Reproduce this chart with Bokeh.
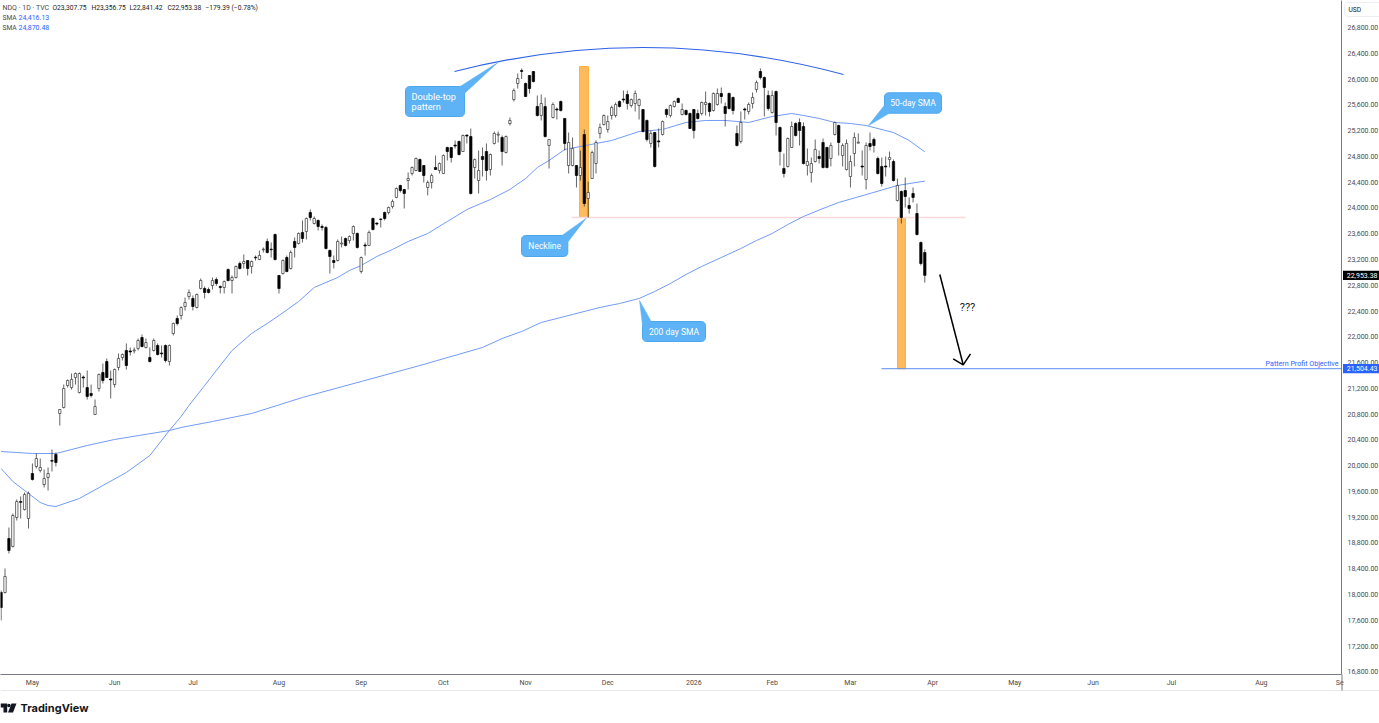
import math
from bokeh.plotting import figure
from bokeh.embed import file_html
from bokeh.resources import INLINE
from bokeh.core.properties import value
from bokeh.models import FixedTicker, NumeralTickFormatter, Range1d

# ---------- data ----------
opens = [18031,18031,18869,18746,19195,19443,19319,19180,19878,19987,19925,19707,19816,20080,20173,20809,20902,21243,21212,21368,
 21135,21375,21212,21120,20794,21197,21446,21616,21345,21259,21523,21678,21787,21780,21780,21818,21989,21834,21678,21787,
 21865,21748,21865,21616,22051,22284,22330,22470,22625,22594,22454,22749,22749,22734,22796,22889,22780,22765,23044,22873,
 22920,23137,23137,23184,23091,23235,23199,23350,23479,23360,23587,22951,22982,23230,23060,23479,23448,23619,23634,23929,
 23758,23805,23711,23696,23339,23184,23184,23440,23525,23494,23603,23603,23013,23425,23417,23836,23765,23828,23929,23929,
 24022,24162,24348,24286,24425,24534,24581,24751,24658,24317,24394,24627,24581,24534,24938,24938,24975,25031,24875,25130,
 25108,24627,24425,24798,24875,24596,25000,25130,25093,24860,25310,25682,25931,26133,25931,26055,26117,25574,25434,25574,
 24969,25403,25535,25651,25388,24658,24658,24658,24503,25139,24146,24456,24689,25155,25294,25217,25434,25434,25651,25690,
 25760,25589,25620,25589,25527,25357,25000,25170,25040,25139,25527,25434,25574,25698,25450,25512,25465,25527,25465,25465,
 25605,25620,25512,25605,25776,25574,25776,25714,25155,25031,25535,25496,25620,25838,26117,26024,25745,25481,25806,25248,
 24612,24643,24938,25310,25326,25263,24658,24550,24720,24798,25015,24938,24767,25139,25279,24813,24596,24487,24844,25005,
 24650,24441,25000,25062,24767,24643,24650,24751,24720,24115,24255,24270,24037,24224,23913,23463,23307.75]
highs = [18062,18404,19040,19257,19475,19521,19583,19598,20033,20188,20111,19940,19971,20250,20204,20880,21259,21337,21430,21446,
 21446,21399,21477,21259,21027,21430,21585,21663,21477,21508,21741,21741,21896,21834,21834,21973,22035,21973,21834,21973,
 21896,21865,21880,21880,22221,22330,22470,22610,22734,22641,22672,22904,22780,22765,22920,22920,22796,22873,23060,22951,
 23106,23168,23277,23190,23184,23261,23339,23386,23525,23463,23603,22960,23199,23261,23339,23541,23619,23805,23851,23975,
 23867,23820,23743,23720,23355,23261,23510,23556,23541,23572,23727,23619,23246,23463,23649,23851,23774,23836,23944,24022,
 24130,24317,24360,24295,24550,24643,24782,24767,24665,24425,24534,24813,24705,24829,24950,24945,25046,25046,25139,25139,
 25232,24767,24891,24938,25000,24844,25186,25186,25124,25124,25403,25853,26086,26164,25946,26060,26125,25745,25760,25714,
 25062,25636,25558,25667,25395,25170,25093,24665,24891,25217,24410,24891,25046,25310,25450,25434,25589,25636,25667,25822,
 25822,25698,25822,25698,25535,25372,25201,25180,25232,25357,25543,25605,25667,25714,25620,25527,25481,25535,25527,25651,
 25806,25636,25791,25853,25869,25636,25791,25729,25279,25496,25558,25636,25791,25977,26164,26040,25822,25822,25822,25263,
 24844,25093,25341,25330,25388,25326,24922,24782,25062,24891,25077,24950,25015,25341,25294,25000,25062,24813,25170,25155,
 24891,25015,25170,25093,24798,24782,24798,24875,24751,24456,24270,24472,24162,24317,24068,23478,23356.75]
lows = [17597,18015,18637,18730,19149,19180,19304,19024,19769,19956,19894,19661,19614,19909,19987,20623,20887,21212,21181,21259,
 21120,21212,21027,21058,20785,21150,21275,21360,21042,21212,21477,21632,21492,21710,21741,21787,21834,21818,21601,21771,
 21710,21678,21601,21554,22020,22175,22268,22408,22578,22408,22439,22734,22594,22672,22734,22790,22672,22672,22858,22672,
 22905,23044,23060,22951,22982,23184,23190,23308,23292,23230,23184,22672,22966,23000,23044,23230,23432,23463,23510,23805,
 23743,23649,23649,23355,22982,23060,23168,23386,23401,23448,23494,23370,22982,23261,23410,23649,23727,23696,23805,23898,
 23991,24150,24239,23991,24286,24503,24570,24565,24394,24193,24301,24590,24534,24525,24736,24705,24922,24813,24870,25000,
 24208,24456,24224,24487,24425,24503,24984,25015,24658,24844,25279,25651,25853,26000,25720,25776,25946,25419,25357,25093,
 24612,25388,25372,25496,24891,24534,24643,24317,24425,24022,23851,24450,24534,25077,25279,25170,25372,25403,25558,25636,
 25527,25558,25496,25372,25170,25031,24938,24627,24938,25124,25403,25403,25558,25630,25434,25434,25225,25077,25372,25434,
 25434,25419,25496,25589,25620,25263,25527,25450,24953,25000,25372,25450,25543,25791,25993,25419,25512,25465,25124,24658,
 24472,24627,24930,25108,24969,24673,24503,24394,24705,24689,24612,24612,24643,25124,24813,24643,24581,24317,24643,25000,
 24503,24286,24891,24860,24518,24332,24487,24627,24410,24099,23758,24006,23913,24084,23572,23106,22841.42]
closes = [17798,18280,18683,19226,19443,19430,19552,19568,19785,20111,19971,19800,19878,20070,20049,20871,21197,21321,21337,21430,
 21430,21360,21073,21089,20918,21415,21321,21368,21330,21492,21663,21725,21554,21765,21795,21942,21849,21911,21616,21942,
 21725,21735,21632,21865,22206,22206,22454,22532,22687,22470,22656,22873,22687,22687,22873,22827,22765,22858,22873,22920,
 23091,23060,23168,23060,23168,23225,23261,23360,23308,23350,23199,22749,23184,23013,23308,23386,23603,23525,23836,23851,
 23836,23711,23696,23370,23246,23153,23479,23455,23417,23556,23711,23386,23230,23410,23619,23665,23750,23820,23836,24006,
 24099,24301,24270,24224,24456,24627,24767,24565,24503,24394,24503,24596,24689,24813,24875,24782,24960,24829,25124,25115,
 24224,24751,24581,24751,24581,24829,25155,25145,24875,25108,25357,25822,26008,26118,25729,25853,25962,25434,25620,25108,
 25062,25605,25520,25512,25000,25015,24922,24503,24627,24068,24239,24860,25015,25248,25434,25341,25558,25605,25574,25675,
 25620,25682,25776,25682,25186,25062,25155,24643,25025,25341,25450,25589,25651,25636,25527,25450,25232,25201,25388,25636,
 25636,25496,25776,25776,25729,25465,25543,25512,24969,25326,25520,25605,25714,25946,26024,25869,25543,25745,25326,24875,
 24534,25077,25263,25124,25201,24689,24720,24689,24906,24767,24627,24627,24969,25326,25015,24969,25000,24720,25093,25020,
 24635,24969,24953,24969,24534,24379,24635,24782,24425,24348,23851,24177,23991,24162,23587,23137,22953.38]

sma50_bar = [0,3,7,10,12,14,20,26,32,38,43,46,48,52,55,59,64,68,71,76,80,86,89,92,96,100,104,109,114,119,125,130,134,137,140,144,148,156,163,166,169,175,180,185,191,197,202,205,209,213,217,221,228,232,236]
sma50_val = [19956,19754,19568,19428,19381,19366,19490,19692,19894,20157,20545,20763,20933,21244,21477,21787,22051,22206,22330,22547,22765,22920,23029,23106,23246,23355,23479,23603,23789,23975,24130,24286,24456,24627,24736,24907,24953,25046,25186,25201,25217,25326,25357,25357,25326,25419,25465,25434,25388,25326,25310,25279,25170,25046,24870.48]
sma200_bar = [0,4,8,14,18,22,29,43,46,54,64,77,92,107,123,128,133,138,146,153,158,163,167,171,175,179,184,189,193,197,201,205,210,214,222,229,236]
sma200_val = [20219,20204,20188,20188,20250,20313,20406,20545,20592,20685,20809,21058,21306,21554,21834,21973,22082,22222,22346,22455,22516,22594,22703,22827,22967,23091,23230,23370,23494,23603,23742,23867,23991,24084,24224,24348,24416.13]

month_bars = [8,29,49,71,92,113,134,155,177,197,217,238,259,279,299,322,342]
month_names = ["May","Jun","Jul","Aug","Sep","Oct","Nov","Dec","2026","Feb","Mar","Apr","May","Jun","Jul","Aug","Se"]
price_ticks = list(range(16800, 27000, 400))
neckline = 23851
objective = 21504.43
last_close = 22953.38

BAR_PX, BAR_X0 = 3.914, 0.6
PRICE_PER_PX, TOP_PRICE = 15.52, 27219
def X(px): return (px - BAR_X0) / BAR_PX
def Y(py): return TOP_PRICE - PRICE_PER_PX * py
def py_of(price): return (TOP_PRICE - price) / PRICE_PER_PX

FW, FH = 1341, 674
p = figure(width=1379, height=723, output_backend="svg", toolbar_location=None,
           x_range=Range1d(X(0), X(FW)), y_range=Range1d(Y(FH), Y(0)),
           y_axis_location="right", min_border=0, min_border_right=38, min_border_bottom=49,
           min_border_left=0, min_border_top=0, background_fill_color="white", border_fill_color="white")
p.frame_width = FW
p.frame_height = FH
p.styles = {"position": "absolute", "left": "0px", "top": "0px"}
p.outline_line_color = None
p.grid.visible = False

AXC, TXC = "#787b86", "#4a4a4a"
for ax in (p.xaxis[0], p.yaxis[0]):
    ax.axis_line_color = AXC
    ax.axis_line_width = 1
    ax.major_tick_line_color = None
    ax.major_tick_out = 0
    ax.major_tick_in = 0
    ax.minor_tick_line_color = None
    ax.minor_tick_out = 0
    ax.major_label_text_color = TXC
    ax.major_label_text_font = "Roboto"
    ax.major_label_text_font_size = "7px"
p.yaxis[0].ticker = FixedTicker(ticks=price_ticks)
p.yaxis[0].formatter = NumeralTickFormatter(format="0,0.00")
p.yaxis[0].major_label_standoff = 6
p.xaxis[0].ticker = FixedTicker(ticks=month_bars)
p.xaxis[0].major_label_overrides = dict(zip(month_bars, month_names))
p.xaxis[0].major_label_standoff = 4

# orange measured-move bars and neckline, behind the candles
p.quad(left=[X(579), X(897)], right=[X(588), X(905)],
       top=[Y(66), neckline], bottom=[neckline, objective],
       fill_color="#ffba5c", line_color="#ffa62b", line_width=0.8)
p.line([X(571), X(965)], [neckline, neckline], line_color="#fbd9db", line_width=1.6)

# SMAs
p.line(sma200_bar, sma200_val, line_color="#6a96f6", line_width=0.95)
p.line(sma50_bar, sma50_val, line_color="#6a96f6", line_width=0.95)

# candles
n = len(closes)
idx = list(range(n))
p.segment(idx, highs, idx, lows, line_color="#222222", line_width=0.7)
up = [i for i in idx if closes[i] >= opens[i]]
dn = [i for i in idx if closes[i] < opens[i]]
p.vbar(up, top=[closes[i] for i in up], bottom=[opens[i] for i in up], width=0.6,
       fill_color="white", line_color="#333333", line_width=0.7)
p.vbar(dn, top=[opens[i] for i in dn], bottom=[closes[i] for i in dn], width=0.6,
       fill_color="black", line_color="black", line_width=0.7)

# double-top arc
p.quadratic(x0=[X(454)], y0=[Y(71)], x1=[X(843)], y1=[Y(74)], cx=[X(648)], cy=[Y(21.5)],
            line_color="#2f62e6", line_width=1.15)

# objective line
p.line([X(881), X(FW)], [objective, objective], line_color="#5b8def", line_width=1)

# arrow
p.line([X(939.3), X(962.7)], [Y(274), Y(364.3)], line_color="black", line_width=1.5)
p.line([X(952.7), X(962.7), X(970)], [Y(358.3), Y(364.3), Y(353.3)], line_color="black", line_width=1.5)

# ---------- overlay in picture pixels: notes, legend, axis tags, footer ----------
ov = figure(width=1379, height=723, output_backend="svg", toolbar_location=None,
            x_range=Range1d(0, 1379), y_range=Range1d(723, 0), min_border=0,
            background_fill_color=None, border_fill_color=None, outline_line_color=None)
ov.frame_width = 1379
ov.frame_height = 723
ov.axis.visible = False
ov.grid.visible = False
ov.styles = {"position": "absolute", "left": "0px", "top": "0px"}

BLUE = "#5db3f5"
def rounded(x0, y0, x1, y1, r=4):
    xs, ys = [], []
    for cx, cy, a0 in ((x1-r, y0+r, -90), (x1-r, y1-r, 0), (x0+r, y1-r, 90), (x0+r, y0+r, 180)):
        for k in range(7):
            a = math.radians(a0 + 15*k)
            xs.append(cx + r*math.cos(a)); ys.append(cy + r*math.sin(a))
    return xs, ys

def text(x, y, s, color=TXC, size="6.7px", align="left", font="Roboto", style="normal"):
    ov.text([x], [y], text=[s], text_color=color, text_font=value(font), text_font_size=size,
            text_align=align, text_baseline="middle", text_font_style=style)

def callout(x0, y0, x1, y1, tip, b1, b2, lines, tx=None, size="8.5px"):
    xs, ys = rounded(x0, y0, x1, y1)
    ov.patch(xs, ys, fill_color=BLUE, line_color="#4aa7ec", line_width=1)
    ov.patch([b1[0], tip[0], b2[0]], [b1[1], tip[1], b2[1]], fill_color=BLUE, line_color=BLUE, line_width=0.5)
    for s, cy in lines:
        text(tx if tx else (x0+x1)/2, cy, s, color="white", size=size, align="left" if tx else "center")

callout(405, 86, 464, 116, (497.7, 61.7), (458, 87), (464, 93), [("Double-top", 96), ("pattern", 105.5)], tx=411, size="9.2px")
callout(521, 235, 567.3, 256, (585.7, 217.7), (560, 236), (567, 242), [("Neckline", 245.5)])
callout(884, 92.3, 941, 112.7, (867.7, 125.3), (884.5, 104), (890, 112), [("50-day SMA", 102.5)])
callout(642, 321, 705, 341, (639, 300), (642.5, 329), (651, 321.5), [("200 day SMA", 331)])

text(967, 306.5, "???", color="#222222", size="11px", align="center")
text(1338, 362.5, "Pattern Profit Objective", color="#2962ff", size="7.1px", align="right")

text(2, 7, "NDQ · 1D · TVC", size="7px")
text(52, 7, "O23,307.75", color="#222222")
text(91, 7, "H23,356.75", color="#222222")
text(129, 7, "L22,841.42", color="#222222")
text(167, 7, "C22,953.38", color="#222222")
text(205, 7, "−179.39 (−0.78%)", color="#222222")
text(2, 17, "SMA")
text(18, 17, "24,416.13", color="#2962ff", size="7px")
text(2, 27, "SMA")
text(18, 27, "24,870.48", color="#2962ff", size="7px")

# axis tags
for price, color in ((last_close, "#000000"), (objective, "#2962ff")):
    yc = py_of(price)
    ov.quad(left=[1342.5], right=[1379], top=[yc-4.6], bottom=[yc+4.6], fill_color=color, line_color=None)
    text(1377, yc+0.2, f"{price:,.2f}", color="white", size="7px", align="right")

xs_u, ys_u = rounded(1344, 2, 1384, 16, r=3)
ov.patch(xs_u, ys_u, fill_color="white", line_color="#eceef2", line_width=1)
text(1348, 9, "USD", color="#222222")

# footer rule and logo
ov.line([0, 1379], [690, 690], line_color="#e6e8ee", line_width=1)
ov.line([1341.5, 1341.5], [674, 690], line_color=AXC, line_width=1)
ov.patch([0, 6.7, 6.7, 3, 3, 0], [703, 703, 712, 712, 707, 707], fill_color="#131722", line_color=None)
ov.patch([11, 16, 12.5, 7.5], [703, 703, 712, 712], fill_color="#131722", line_color=None)
ov.scatter([8.4], [705], size=3.6, marker="circle", fill_color="#131722", line_color=None)
text(20, 707, "TradingView", color="#131722", size="11px", font="Inter", style="bold")

open("out.html", "w").write(file_html([p, ov], INLINE))
